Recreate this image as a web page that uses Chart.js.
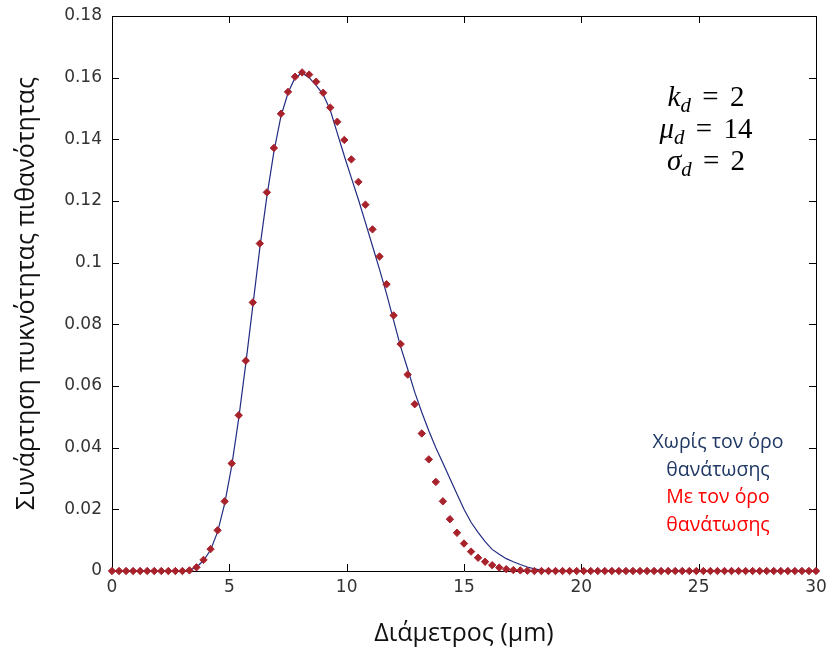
<!DOCTYPE html>
<html>
<head>
<meta charset="utf-8">
<script src="https://cdn.jsdelivr.net/npm/chart.js@4.4.1/dist/chart.umd.min.js"></script>
<style>
  html, body { margin: 0; padding: 0; background: #fff; }
  #wrap { position: relative; width: 830px; height: 651px; }
  #myChart { position: absolute; left: 0; top: 0; }
  .params {
    position: absolute; left: 616px; top: 80px; width: 180px;
    font-family: "Liberation Serif", serif; font-size: 29px; line-height: 32px;
    text-align: center; color: #000;
  }
  .params i { font-style: italic; }
  .params sub { font-size: 0.72em; line-height: 0; vertical-align: -0.28em; }
  .params .eq { margin: 0 0.14em; }
  .note {
    position: absolute; left: 628px; top: 427px; width: 180px;
    font-family: "Open Sans", sans-serif; font-size: 19.5px; line-height: 27.5px;
    text-align: center;
  }
  .note .blue { color: #1f3864; }
  .note .red { color: #ff0000; }
</style>
</head>
<body>
<div id="wrap">
  <canvas id="myChart" width="830" height="651"></canvas>
  <div class="params">
    <div><i>k</i><sub><i>d</i></sub> <span class="eq">=</span> 2</div>
    <div><i>μ</i><sub><i>d</i></sub> <span class="eq">=</span> 14</div>
    <div><i>σ</i><sub><i>d</i></sub> <span class="eq">=</span> 2</div>
  </div>
  <div class="note">
    <div class="blue">Χωρίς τον όρο</div>
    <div class="blue">θανάτωσης</div>
    <div class="red">Με τον όρο</div>
    <div class="red">θανάτωσης</div>
  </div>
</div>
<script>
// diameter grid (um)
const diameters = [
  0, 0.3, 0.6, 0.9, 1.2, 1.5, 1.8, 2.1, 2.4, 2.7,
  3, 3.3, 3.6, 3.9, 4.2, 4.5, 4.8, 5.1, 5.4, 5.7,
  6, 6.3, 6.6, 6.9, 7.2, 7.5, 7.8, 8.1, 8.4, 8.7,
  9, 9.3, 9.6, 9.9, 10.2, 10.5, 10.8, 11.1, 11.4, 11.7,
  12, 12.3, 12.6, 12.9, 13.2, 13.5, 13.8, 14.1, 14.4, 14.7,
  15, 15.3, 15.6, 15.9, 16.2, 16.5, 16.8, 17.1, 17.4, 17.7,
  18, 18.3, 18.6, 18.9, 19.2, 19.5, 19.8, 20.1, 20.4, 20.7,
  21, 21.3, 21.6, 21.9, 22.2, 22.5, 22.8, 23.1, 23.4, 23.7,
  24, 24.3, 24.6, 24.9, 25.2, 25.5, 25.8, 26.1, 26.4, 26.7,
  27, 27.3, 27.6, 27.9, 28.2, 28.5, 28.8, 29.1, 29.4, 29.7,
  30
];

// without the killing term (blue line)
const withoutKilling = [
  0, 0, 0, 0, 0, 0, 0, 0, 0, 0,
  0, 0.0003, 0.0012, 0.0034, 0.0068, 0.0127, 0.0218, 0.0340, 0.0495, 0.0672,
  0.0860, 0.1048, 0.1215, 0.1360, 0.1475, 0.1550, 0.1600, 0.1615, 0.1600, 0.1575,
  0.1545, 0.1495, 0.1420, 0.1346, 0.1275, 0.1205, 0.1130, 0.1054, 0.0978, 0.0899,
  0.0813, 0.0727, 0.0655, 0.0580, 0.0515, 0.0455, 0.0400, 0.0350, 0.0300, 0.0250,
  0.0200, 0.0158, 0.0125, 0.0095, 0.0070, 0.0054, 0.0040, 0.0030, 0.0021, 0.0013,
  0.0007, 0.0003, 0.0001, 0, 0, 0, 0, 0, 0, 0,
  0, 0, 0, 0, 0, 0, 0, 0, 0, 0,
  0, 0, 0, 0, 0, 0, 0, 0, 0, 0,
  0, 0, 0, 0, 0, 0, 0, 0, 0, 0,
  0
];

// with the killing term (red diamonds)
const withKilling = [
  0, 0, 0, 0, 0, 0, 0, 0, 0, 0,
  0, 0.0002, 0.0012, 0.0036, 0.0071, 0.0132, 0.0226, 0.0349, 0.0505, 0.0682,
  0.0871, 0.1062, 0.1228, 0.1372, 0.1483, 0.1554, 0.1603, 0.1617, 0.1610, 0.1587,
  0.1551, 0.1503, 0.1457, 0.1398, 0.1335, 0.1262, 0.1188, 0.1108, 0.1020, 0.0930,
  0.0829, 0.0736, 0.0637, 0.0541, 0.0446, 0.0362, 0.0289, 0.0226, 0.0168, 0.0124,
  0.0089, 0.0063, 0.0043, 0.0030, 0.0019, 0.0011, 0.0006, 0.0003, 0.0002, 0.0001,
  0, 0, 0, 0, 0, 0, 0, 0, 0, 0,
  0, 0, 0, 0, 0, 0, 0, 0, 0, 0,
  0, 0, 0, 0, 0, 0, 0, 0, 0, 0,
  0, 0, 0, 0, 0, 0, 0, 0, 0, 0,
  0
];

const xTicks = [0, 5, 10, 15, 20, 25, 30];
const yTicks = [0, 0.02, 0.04, 0.06, 0.08, 0.1, 0.12, 0.14, 0.16, 0.18];

const lineColor = "#222c82";
const markerColor = "#a8222c";

// matlab style box with inward ticks
const boxPlugin = {
  id: "box",
  beforeDatasetsDraw(chart) {
    const { ctx, chartArea: a, scales } = chart;
    const len = 7;
    ctx.save();
    ctx.strokeStyle = "#000";
    ctx.lineWidth = 1;
    ctx.beginPath();
    ctx.rect(Math.round(a.left) + 0.5, Math.round(a.top) + 0.5,
      Math.round(a.right - a.left), Math.round(a.bottom - a.top));
    xTicks.forEach(v => {
      const px = Math.round(scales.x.getPixelForValue(v)) + 0.5;
      ctx.moveTo(px, a.bottom); ctx.lineTo(px, a.bottom - len);
      ctx.moveTo(px, a.top); ctx.lineTo(px, a.top + len);
    });
    yTicks.forEach(v => {
      const py = Math.round(scales.y.getPixelForValue(v)) + 0.5;
      ctx.moveTo(a.left, py); ctx.lineTo(a.left + len, py);
      ctx.moveTo(a.right, py); ctx.lineTo(a.right - len, py);
    });
    ctx.stroke();
    ctx.restore();
  }
};

const tickFont = { family: "DejaVu Sans", size: 17 };
const titleFont = { family: "Open Sans", size: 25 };

new Chart("myChart", {
  type: "scatter",
  data: {
    datasets: [{
      label: "Με τον όρο θανάτωσης",
      data: diameters.map((d, i) => ({ x: d, y: withKilling[i] })),
      pointStyle: "rectRot",
      pointRadius: 3.7,
      pointBackgroundColor: markerColor,
      pointBorderColor: markerColor,
      pointBorderWidth: 1,
      showLine: false,
      clip: false,
      order: 0
    }, {
      label: "Χωρίς τον όρο θανάτωσης",
      data: diameters.map((d, i) => ({ x: d, y: withoutKilling[i] })),
      showLine: true,
      borderColor: lineColor,
      borderWidth: 1.2,
      pointRadius: 0,
      fill: false,
      order: 1
    }]
  },
  options: {
    responsive: false,
    animation: false,
    devicePixelRatio: 1,
    layout: { padding: { top: 16, right: 14, left: 0, bottom: 0 } },
    plugins: { legend: { display: false }, tooltip: { enabled: false } },
    scales: {
      x: {
        type: "linear", min: 0, max: 30,
        afterFit: s => { s.height = 80; s.paddingLeft = 0; s.paddingRight = 0; },
        afterBuildTicks: s => { s.ticks = xTicks.map(v => ({ value: v })); },
        grid: { display: false, drawTicks: false },
        border: { display: false },
        ticks: { font: tickFont, color: "#333", padding: 6, maxRotation: 0 },
        title: { display: true, text: "Διάμετρος (μm)", font: titleFont, color: "#111", padding: { top: 0, bottom: 2 } }
      },
      y: {
        type: "linear", min: 0, max: 0.18,
        afterFit: s => { s.width = 112; s.paddingTop = 0; s.paddingBottom = 0; },
        afterBuildTicks: s => { s.ticks = yTicks.map(v => ({ value: v })); },
        grid: { display: false, drawTicks: false },
        border: { display: false },
        ticks: { font: tickFont, color: "#333", padding: 10, callback: v => String(+v.toFixed(2)) },
        title: { display: true, text: "Συνάρτηση πυκνότητας πιθανότητας", font: titleFont, color: "#111", padding: { top: 12, bottom: 0 } }
      }
    }
  },
  plugins: [boxPlugin]
});
</script>
</body>
</html>
